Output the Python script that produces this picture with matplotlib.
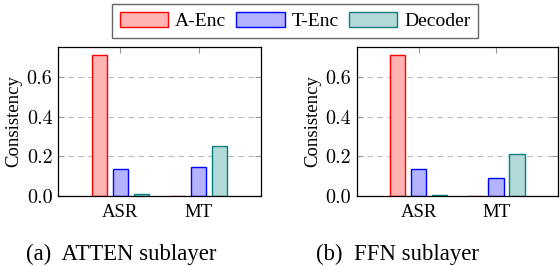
import matplotlib
matplotlib.use("Agg")
import matplotlib.pyplot as plt

plt.rcParams['font.family'] = ['Liberation Serif', 'DejaVu Serif']

categories = ["ASR", "MT"]
series = ["A-Enc", "T-Enc", "Decoder"]
atten_vals = {"A-Enc": [0.715, 0.0], "T-Enc": [0.137, 0.147], "Decoder": [0.010, 0.252]}
ffn_vals = {"A-Enc": [0.714, 0.0], "T-Enc": [0.137, 0.090], "Decoder": [0.002, 0.211]}
captions = ["(a)  ATTEN sublayer", "(b)  FFN sublayer"]
yticks = [0.0, 0.2, 0.4, 0.6]
ytick_labels = ["0.0", "0.2", "0.4", "0.6"]

faces = {"A-Enc": "#ffb3b3", "T-Enc": "#b3b3ff", "Decoder": "#b3d9d9"}
edges = {"A-Enc": "#ff0000", "T-Enc": "#0000ff", "Decoder": "#008080"}
offsets = {"A-Enc": -0.27, "T-Enc": 0.0, "Decoder": 0.27}

fig = plt.figure(figsize=(5.6, 2.66), dpi=100)
rects = [[58/560, 70.3/266, 203/560, 148.4/266], [356.7/560, 70.3/266, 201.3/560, 148.4/266]]
cap_x = [121.5/560, 397/560]

handles = []
for i, (vals, rect) in enumerate(zip([atten_vals, ffn_vals], rects)):
    ax = fig.add_axes(rect)
    xs = list(range(len(categories)))
    for s in series:
        b = ax.bar([x + offsets[s] for x in xs], vals[s], width=0.2,
                   color=faces[s], edgecolor=edges[s], linewidth=1.0, zorder=3, label=s)
        if i == 0:
            handles.append(b)
    ax.set_xlim(-0.8, 1.8)
    ax.set_ylim(0, 0.752)
    ax.set_xticks(xs)
    ax.set_xticklabels(categories, fontsize=13.5)
    ax.set_yticks(yticks)
    ax.set_yticklabels(ytick_labels, fontsize=14.5, fontfamily='cmr10')
    ax.tick_params(axis='y', pad=4)
    ax.tick_params(axis='x', pad=6)
    ax.tick_params(direction='in', length=4, width=0.8, color='#999999',
                   top=True, right=True)
    ax.yaxis.grid(True, linestyle=(0, (5, 4)), color='#bbbbbb', linewidth=0.8, zorder=0)
    ax.set_axisbelow(True)
    for sp in ax.spines.values():
        sp.set_linewidth(0.9)
        sp.set_color('black')
        sp.set_zorder(4)
    ax.set_ylabel("Consistency", fontsize=13.5, labelpad=3)
    fig.text(cap_x[i], 1 - 254/266, captions[i], ha='center', va='center', fontsize=16.4)

leg = fig.legend(handles=handles, labels=series, loc='center', ncol=3,
                 bbox_to_anchor=(295/560, 1 - 21/266), fontsize=14,
                 frameon=True, fancybox=False, edgecolor='#404040',
                 handlelength=2.5, handleheight=0.85, handletextpad=0.35,
                 columnspacing=0.5, borderpad=0.4, borderaxespad=0)
leg.get_frame().set_linewidth(1.0)

fig.savefig("out.png", dpi=100)
